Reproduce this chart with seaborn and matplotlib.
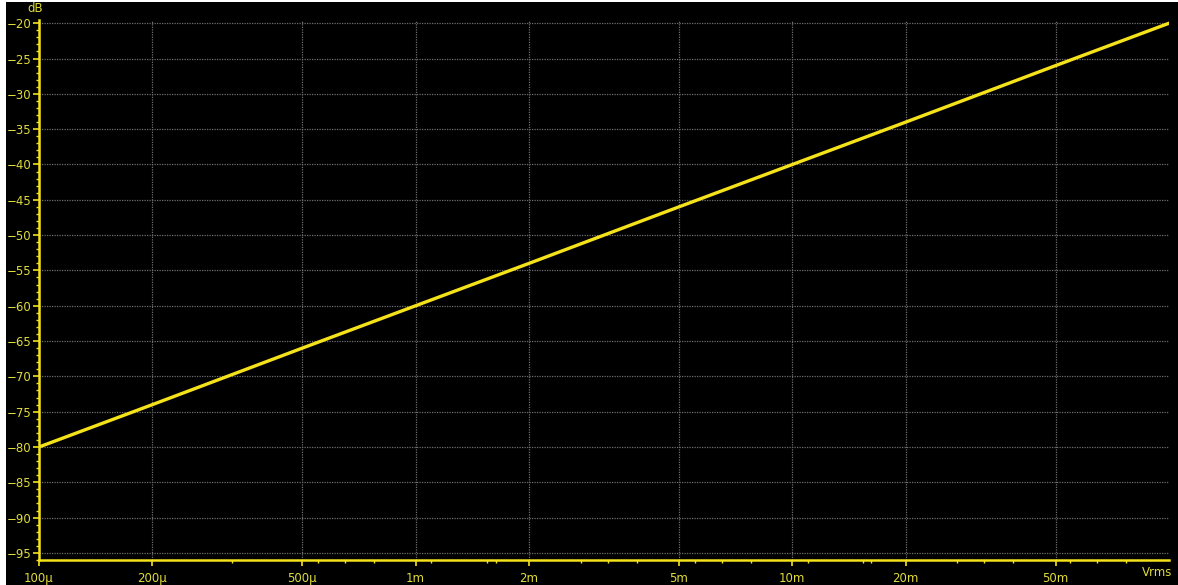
import matplotlib
matplotlib.use("Agg")
import matplotlib.pyplot as plt
import matplotlib.ticker as mticker
from matplotlib.patches import Rectangle
import seaborn as sns
import pandas as pd

# Data
level_vrms = [1e-4, 2e-4, 5e-4, 1e-3, 2e-3, 5e-3, 1e-2, 2e-2, 5e-2, 1e-1]
level_db = [-80.0, -74.0, -66.0, -60.0, -54.0, -46.0, -40.0, -34.0, -26.0, -20.0]

x_major = [1e-4, 2e-4, 5e-4, 1e-3, 2e-3, 5e-3, 1e-2, 2e-2, 5e-2]
x_labels = ["100µ", "200µ", "500µ", "1m", "2m", "5m", "10m", "20m", "50m"]
x_minor = [3.25e-4, 5.5e-4, 6.5e-4, 7.75e-4, 1.1e-3, 1.55e-3, 1.63e-3,
           2.75e-3, 3.25e-3, 3.88e-3, 5.5e-3, 6.5e-3, 7.75e-3,
           1.1e-2, 1.54e-2, 1.62e-2, 2.74e-2, 3.23e-2, 3.86e-2,
           5.46e-2, 6.44e-2, 7.69e-2]
y_major = list(range(-95, -19, 5))

df = pd.DataFrame({"Vrms": level_vrms, "dB": level_db})

sns.set_style("dark")
plt.rcParams["font.family"] = ["DejaVu Sans"]

YEL = "#f5e21a"
TXT = "#e0dc3a"

fig = plt.figure(figsize=(11.78, 5.85), dpi=100, facecolor="black")
fig.patches.append(Rectangle((0, 0), 6 / 1178, 1, transform=fig.transFigure,
                             facecolor="white", edgecolor="none", zorder=0))
fig.patches.append(Rectangle((0, 1 - 2 / 585), 1, 2 / 585, transform=fig.transFigure,
                             facecolor="white", edgecolor="none", zorder=0))

ax = fig.add_axes([39 / 1178, 25 / 585, 1130 / 1178, 540.3 / 585])
ax.set_facecolor("black")

sns.lineplot(data=df, x="Vrms", y="dB", ax=ax, color=YEL, linewidth=2.4)

ax.set_xscale("log")
ax.set_xlim(1e-4, 1e-1)
ax.set_ylim(-96, -19.5)

ax.xaxis.set_major_locator(mticker.FixedLocator(x_major))
ax.xaxis.set_major_formatter(mticker.FixedFormatter(x_labels))
ax.xaxis.set_minor_locator(mticker.FixedLocator(x_minor))
ax.xaxis.set_minor_formatter(mticker.NullFormatter())
ax.yaxis.set_major_locator(mticker.FixedLocator(y_major))
ax.yaxis.set_minor_locator(mticker.MultipleLocator(1))

ax.tick_params(axis="both", which="major", colors=YEL, labelcolor=TXT,
               labelsize=8.5, width=1.2, length=4, direction="out")
ax.tick_params(axis="both", which="minor", colors=YEL, width=1.0, length=2.5,
               direction="out")
ax.tick_params(axis="x", which="major", pad=4.5)
ax.tick_params(axis="y", which="major", pad=1.5)
ax.tick_params(bottom=True, left=True, which="both")

ax.grid(True, which="major", color="#6e6e6e", linestyle=(0, (1, 1)), linewidth=0.9)
ax.grid(False, which="minor")

for side in ["top", "right"]:
    ax.spines[side].set_visible(False)
for side in ["left", "bottom"]:
    ax.spines[side].set_visible(True)
    ax.spines[side].set_color(YEL)
    ax.spines[side].set_linewidth(1.8)

ax.set_xlabel("")
ax.set_ylabel("")
fig.text(35 / 1178, 1 - 9 / 585, "dB", color=TXT, fontsize=8.5, ha="center", va="center")
fig.text(1157 / 1178, 1 - 572 / 585, "Vrms", color=TXT, fontsize=8.5, ha="center", va="center")

fig.savefig("out.png", dpi=100, facecolor="black")
